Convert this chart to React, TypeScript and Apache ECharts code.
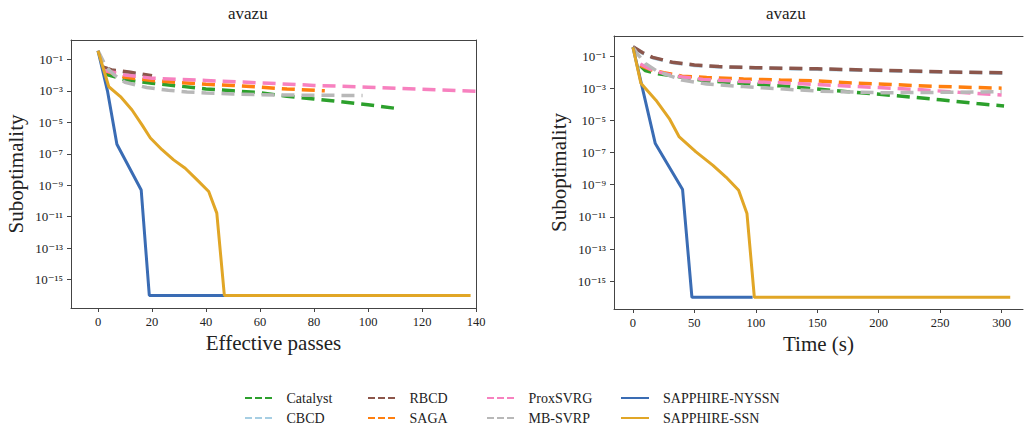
import React, { useEffect, useRef } from 'react';
import * as echarts from 'echarts';

// ---------- tick labels ----------
const passTicks = [0, 20, 40, 60, 80, 100, 120, 140];
const timeTicks = [0, 50, 100, 150, 200, 250, 300];
const yTicks = [1e-1, 1e-3, 1e-5, 1e-7, 1e-9, 1e-11, 1e-13, 1e-15];

// ---------- methods ----------
const methods = ['Catalyst', 'CBCD', 'RBCD', 'SAGA', 'ProxSVRG', 'MB-SVRP', 'SAPPHIRE-NYSSN', 'SAPPHIRE-SSN'];
const colors = ['#2ca02c', '#a6cee3', '#8c564b', '#ff7f0e', '#f781bf', '#b8b8b8', '#3a6cb4', '#e1a626'];
const dashed = [true, true, true, true, true, true, false, false];

// ---------- left panel: effective passes ----------
const catalystPassX = [2, 5, 10, 20, 30, 40, 50, 60, 70, 80, 90, 100, 112];
const catalystPassY = [1.26e-2, 8.9e-3, 5e-3, 3e-3, 2e-3, 1.3e-3, 1e-3, 7.6e-4, 4.5e-4, 3e-4, 2e-4, 1.3e-4, 7e-5];
const cbcdPassX = [2, 5, 12, 20];
const cbcdPassY = [3e-2, 2e-2, 1.4e-2, 8.3e-3];
const rbcdPassX = [2, 5, 12, 20];
const rbcdPassY = [3.2e-2, 2.1e-2, 1.5e-2, 8.9e-3];
const sagaPassX = [2, 10, 20, 30, 40, 50, 60, 70, 84];
const sagaPassY = [2e-2, 7.1e-3, 4.5e-3, 3.3e-3, 2.6e-3, 2.2e-3, 1.7e-3, 1.3e-3, 1e-3];
const proxPassX = [2, 10, 20, 40, 60, 80, 100, 120, 140];
const proxPassY = [2e-2, 1e-2, 6.3e-3, 4.5e-3, 3.2e-3, 2.2e-3, 1.7e-3, 1.26e-3, 9.3e-4];
const mbPassX = [0, 3, 6, 10, 18, 26, 33, 40, 50, 60, 80, 98];
const mbPassY = [3.5e-1, 3.2e-2, 1e-2, 3.5e-3, 1.6e-3, 1.07e-3, 8.5e-4, 7.2e-4, 6.3e-4, 5.6e-4, 5.2e-4, 5e-4];
const nyssnPassX = [0, 3.5, 7, 16, 19, 47];
const nyssnPassY = [3.5e-1, 1e-3, 4e-7, 5e-10, 1e-16, 1e-16];
const ssnPassX = [0, 4, 8.3, 12.6, 16.3, 19.4, 23.7, 28, 32.3, 36.7, 41, 44, 46.8, 138];
const ssnPassY = [3.5e-1, 1.8e-3, 4.3e-4, 6e-5, 6.8e-6, 1e-6, 1.8e-7, 4.1e-8, 1.2e-8, 2.2e-9, 4e-10, 1.7e-11, 1e-16, 1e-16];

// ---------- right panel: time (s) ----------
const catalystTimeX = [6, 10, 20, 40, 60, 90, 120, 150, 180, 215, 250, 280, 302];
const catalystTimeY = [2.5e-2, 1.26e-2, 7.9e-3, 4.8e-3, 2.9e-3, 2e-3, 1.4e-3, 8.9e-4, 5.6e-4, 3.4e-4, 1.9e-4, 1.1e-4, 7.9e-5];
const cbcdTimeX = [0, 8, 16, 32, 50, 70, 100, 150, 200, 250, 306];
const cbcdTimeY = [3.6e-1, 1.5e-1, 7.8e-2, 3.9e-2, 2.6e-2, 2.1e-2, 1.8e-2, 1.5e-2, 1.25e-2, 1e-2, 8.5e-3];
const rbcdTimeX = [0, 8, 16, 32, 50, 70, 100, 150, 200, 250, 306];
const rbcdTimeY = [3.8e-1, 1.6e-1, 8.3e-2, 4.1e-2, 2.8e-2, 2.2e-2, 1.9e-2, 1.6e-2, 1.3e-2, 1.05e-2, 8.9e-3];
const sagaTimeX = [6, 15, 25, 40, 60, 90, 120, 150, 180, 210, 245, 280, 300];
const sagaTimeY = [2.5e-2, 1.4e-2, 9.3e-3, 5.6e-3, 4.6e-3, 3.7e-3, 3.2e-3, 2.8e-3, 2.1e-3, 1.7e-3, 1.3e-3, 1.1e-3, 1e-3];
const proxTimeX = [6, 15, 25, 40, 57, 90, 120, 150, 200, 235, 265, 300];
const proxTimeY = [3.2e-2, 1.4e-2, 8.3e-3, 5e-3, 3.5e-3, 2.6e-3, 2.2e-3, 1.7e-3, 1.1e-3, 7.9e-4, 5.6e-4, 3.8e-4];
const mbTimeX = [0, 4, 10, 20, 40, 60, 90, 120, 150, 200, 250, 300];
const mbTimeY = [3.5e-1, 1.26e-1, 3.5e-2, 1.1e-2, 3.2e-3, 1.8e-3, 1.26e-3, 9.1e-4, 6.6e-4, 5.2e-4, 5.5e-4, 6e-4];
const nyssnTimeX = [0, 7.2, 18.2, 40.4, 48, 97.4];
const nyssnTimeY = [3.5e-1, 1.5e-3, 3.6e-7, 5e-10, 1e-16, 1e-16];
const ssnTimeX = [0, 6.5, 18.7, 29.6, 37.7, 51.3, 65.1, 75.7, 86, 92.8, 98.8, 307];
const ssnTimeY = [3.5e-1, 2e-3, 1.8e-4, 1.3e-5, 9.3e-7, 1.1e-7, 1.6e-8, 3e-9, 4.5e-10, 1.6e-11, 1e-16, 1e-16];

const passX = [catalystPassX, cbcdPassX, rbcdPassX, sagaPassX, proxPassX, mbPassX, nyssnPassX, ssnPassX];
const passY = [catalystPassY, cbcdPassY, rbcdPassY, sagaPassY, proxPassY, mbPassY, nyssnPassY, ssnPassY];
const timeX = [catalystTimeX, cbcdTimeX, rbcdTimeX, sagaTimeX, proxTimeX, mbTimeX, nyssnTimeX, ssnTimeX];
const timeY = [catalystTimeY, cbcdTimeY, rbcdTimeY, sagaTimeY, proxTimeY, mbTimeY, nyssnTimeY, ssnTimeY];

const FONT = '"Liberation Serif", "DejaVu Serif", serif';
const AXIS_COLOR = '#444';
const TEXT_COLOR = '#222';
const DASH_ICON = 'path://M0 0H7V2H0Z M10 0H17V2H10Z M20 0H27V2H20Z';
const SUP: Record<string, string> = {
  '0': '\u2070', '1': '\u00b9', '2': '\u00b2', '3': '\u00b3', '4': '\u2074',
  '5': '\u2075', '6': '\u2076', '7': '\u2077', '8': '\u2078', '9': '\u2079', '-': '\u207b',
};

function zip(xs: number[], ys: number[]) {
  return xs.map((x, i) => [x, ys[i]]);
}

function powLabel(v: number) {
  const e = String(Math.round(Math.log10(v)));
  return '10' + e.split('').map((c) => SUP[c] || c).join('');
}

function yAxis(gridIndex: number, min: number, max: number) {
  return {
    type: 'log',
    logBase: 10,
    gridIndex,
    position: 'left',
    min,
    max,
    name: 'Suboptimality',
    nameLocation: 'middle',
    nameGap: 45,
    nameTextStyle: { fontFamily: FONT, fontSize: 21, color: '#222' },
    axisLine: { show: true, onZero: false, lineStyle: { color: AXIS_COLOR, width: 1 } },
    axisTick: { show: true, length: 4, inside: false, customValues: yTicks, lineStyle: { color: AXIS_COLOR } },
    minorTick: { show: false },
    splitLine: { show: false },
    axisLabel: {
      customValues: yTicks,
      margin: 8,
      color: TEXT_COLOR,
      fontFamily: FONT,
      fontSize: 13,
      formatter: powLabel,
    },
  };
}

function xAxis(gridIndex: number, min: number, max: number, ticks: number[], name: string) {
  return {
    type: 'value',
    gridIndex,
    position: 'bottom',
    min,
    max,
    name,
    nameLocation: 'middle',
    nameGap: 20,
    nameTextStyle: { fontFamily: FONT, fontSize: 21, color: '#222' },
    axisLine: { show: true, onZero: false, lineStyle: { color: AXIS_COLOR, width: 1 } },
    axisTick: { show: true, length: 4, inside: false, customValues: ticks, lineStyle: { color: AXIS_COLOR } },
    splitLine: { show: false },
    axisLabel: { customValues: ticks, margin: 7, fontFamily: FONT, fontSize: 12.5, color: TEXT_COLOR },
  };
}

function frameAxis(gridIndex: number, position: string) {
  return {
    type: 'value',
    gridIndex,
    position,
    min: 0,
    max: 1,
    axisLine: { show: true, onZero: false, lineStyle: { color: AXIS_COLOR, width: 1 } },
    axisTick: { show: false },
    axisLabel: { show: false },
    splitLine: { show: false },
  };
}

// legend cell positions: [left, top] per method
const legendLeft = [245, 245, 368, 368, 487, 487, 621, 621];
const legendTop = [391, 411, 391, 411, 391, 411, 391, 411];

export default function App() {
  const ref = useRef<HTMLDivElement>(null);

  useEffect(() => {
    if (!ref.current) return;
    const chart = echarts.init(ref.current, undefined, { renderer: 'svg' });

    const series: any[] = [];
    [0, 1].forEach((panel) => {
      methods.forEach((m, i) => {
        const xs = panel === 0 ? passX[i] : timeX[i];
        const ys = panel === 0 ? passY[i] : timeY[i];
        series.push({
          type: 'line',
          name: m,
          xAxisIndex: panel,
          yAxisIndex: panel,
          data: zip(xs, ys),
          symbol: 'none',
          showSymbol: false,
          clip: true,
          z: 2 + i,
          lineStyle: {
            color: colors[i],
            width: dashed[i] ? 3.5 : 3,
            type: dashed[i] ? [13, 7] : 'solid',
          },
          itemStyle: { color: colors[i] },
        });
      });
    });

    const legend = methods.map((m, k) => ({
      orient: 'horizontal',
      left: legendLeft[k],
      top: legendTop[k],
      padding: 0,
      itemWidth: 28,
      itemHeight: 2,
      selectedMode: false,
      data: [{ name: m, icon: dashed[k] ? DASH_ICON : 'rect' }],
      textStyle: { fontFamily: FONT, fontSize: 14, color: '#222', padding: [0, 0, 0, 9] },
    }));

    chart.setOption({
      animation: false,
      backgroundColor: '#fff',
      textStyle: { fontFamily: FONT, color: TEXT_COLOR },
      grid: [
        { left: 71, top: 40, width: 405, height: 268, containLabel: false },
        { left: 614, top: 36, width: 409, height: 273, containLabel: false },
      ],
      xAxis: [
        xAxis(0, -10, 140, passTicks, 'Effective passes'),
        xAxis(1, -15.4, 317.4, timeTicks, 'Time (s)'),
        frameAxis(0, 'top'),
        frameAxis(1, 'top'),
      ],
      yAxis: [yAxis(0, 1.6e-17, 1.68), yAxis(1, 1.86e-17, 1.76), frameAxis(0, 'right')],
      legend,
      graphic: [
        { type: 'text', left: 228, top: 5, style: { text: 'avazu', font: '17px ' + FONT, fill: '#222' } },
        { type: 'text', left: 766, top: 5, style: { text: 'avazu', font: '17px ' + FONT, fill: '#222' } },
      ],
      series,
    });

    return () => chart.dispose();
  }, []);

  return <div ref={ref} style={{ position: 'fixed', left: 0, top: 0, width: 1024, height: 425 }} />;
}
